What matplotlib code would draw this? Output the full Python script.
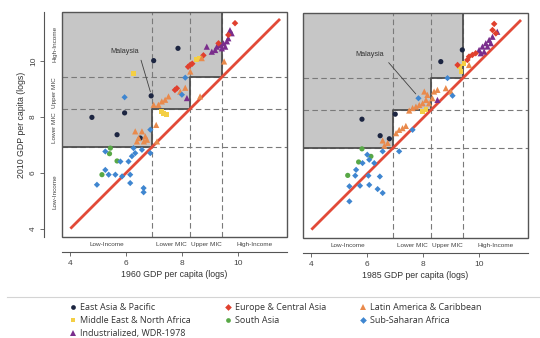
"""Growth of GDP per capita by income band: 1960 vs 2010 and 1985 vs 2010."""

import matplotlib

matplotlib.use("Agg")
import matplotlib.pyplot as plt
from matplotlib.lines import Line2D
from matplotlib.patches import Polygon, Rectangle
from matplotlib.transforms import blended_transform_factory

plt.rcParams["font.family"] = ["Liberation Sans", "DejaVu Sans"]

LIMITS = (3.7, 11.75)
THRESHOLDS = [6.92, 8.29, 9.43]
BANDS = ["Low-Income", "Lower MIC", "Upper MIC", "High-Income"]
TICKS = [4, 6, 8, 10]

# (initial GDP, 2010 GDP) pairs, by region
EAP_1960 = [(4.77, 7.98), (5.67, 7.36), (5.94, 8.14), (6.5, 7.24), (6.89, 8.75),
            (6.98, 10.01), (7.85, 10.45)]
ECA_1960 = [(7.74, 8.96), (7.81, 9.02), (8.21, 9.79), (8.29, 9.86), (8.36, 9.9),
            (8.76, 10.2), (9.3, 10.63), (9.65, 10.93), (9.89, 11.35)]
LAC_1960 = [(6.32, 7.48), (6.38, 7.12), (6.44, 7.24), (6.56, 7.48), (6.63, 7.12),
            (6.68, 7.3), (6.74, 7.18), (6.98, 8.43), (7.07, 7.71), (7.1, 7.12),
            (7.15, 8.43), (7.27, 8.55), (7.39, 8.61), (7.51, 8.73), (7.93, 8.9),
            (8.11, 9.04), (8.29, 9.62), (8.64, 8.73), (8.7, 10.1), (9.5, 9.98)]
MENA_1960 = [(6.25, 9.54), (7.27, 8.19), (7.33, 8.13), (7.45, 8.07), (8.52, 10.04),
             (8.6, 10.08)]
SAS_1960 = [(5.13, 5.93), (5.4, 6.68), (5.43, 6.88), (5.67, 6.42)]
SSA_1960 = [(4.95, 5.57), (5.25, 6.1), (5.25, 6.76), (5.37, 5.93), (5.61, 5.93),
            (5.79, 6.4), (5.85, 5.87), (5.94, 8.7), (6.08, 6.4), (6.14, 5.93),
            (6.14, 5.63), (6.2, 6.59), (6.26, 6.88), (6.32, 6.7), (6.56, 6.82),
            (6.62, 5.45), (6.62, 5.3), (6.86, 6.7), (6.86, 7.54), (7.99, 8.79),
            (8.11, 9.4)]
IND_1960 = [(8.17, 8.67), (8.88, 10.51), (9.06, 10.33), (9.18, 10.39), (9.24, 10.51),
            (9.36, 10.57), (9.42, 10.45), (9.48, 10.63), (9.54, 10.51), (9.6, 10.7),
            (9.65, 10.81), (9.71, 11.1), (9.77, 10.99)]

EAP_1985 = [(5.81, 7.95), (6.46, 7.36), (6.79, 7.25), (7.0, 8.13), (8.63, 10.01),
            (9.4, 10.43)]
ECA_1985 = [(9.23, 9.89), (9.58, 10.07), (9.64, 10.19), (9.76, 10.25), (9.88, 10.31),
            (10.48, 11.14), (10.6, 11.02), (10.54, 11.36)]
LAC_1985 = [(6.55, 7.19), (6.61, 7.0), (6.73, 7.1), (7.03, 7.45), (7.14, 7.57),
            (7.26, 7.63), (7.38, 7.71), (7.5, 8.26), (7.62, 8.35), (7.74, 8.4),
            (7.86, 8.46), (7.98, 8.52), (8.04, 8.94), (8.1, 8.64), (8.15, 8.82),
            (8.21, 8.52), (8.33, 8.7), (8.39, 8.94), (8.51, 9.0), (8.81, 9.06),
            (8.99, 8.94), (9.64, 9.89)]
MENA_1985 = [(7.98, 8.22), (8.1, 8.29), (9.29, 9.83), (9.35, 9.65), (9.46, 9.95)]
SAS_1985 = [(5.3, 5.94), (5.69, 6.42), (5.81, 6.89), (6.13, 6.62)]
SSA_1985 = [(5.36, 5.01), (5.36, 5.55), (5.57, 5.93), (5.6, 6.14), (5.74, 5.57),
            (5.83, 6.38), (6.0, 6.68), (6.04, 5.93), (6.07, 6.5), (6.07, 5.6),
            (6.25, 6.38), (6.37, 5.45), (6.45, 5.9), (6.55, 5.31), (6.55, 6.8),
            (7.14, 6.8), (7.62, 7.57), (7.83, 8.7), (8.87, 9.42), (9.05, 8.79)]
IND_1985 = [(8.51, 8.64), (10.0, 10.43), (10.06, 10.31), (10.12, 10.55), (10.18, 10.37),
            (10.24, 10.67), (10.3, 10.55), (10.36, 10.79), (10.42, 10.67), (10.48, 10.9),
            (10.65, 11.08)]

REGIONS = [
    # name, marker, colour, size
    ("East Asia & Pacific", "o", "#1c2541", 14),
    ("Middle East & North Africa", "s", "#f4cf45", 12),
    ("Industrialized, WDR-1978", "^", "#7a2d8c", 20),
    ("Europe & Central Asia", "D", "#e0402e", 11),
    ("South Asia", "o", "#58a846", 14),
    ("Latin America & Caribbean", "^", "#e98a4c", 20),
    ("Sub-Saharan Africa", "D", "#3f86d0", 10),
]
PANEL_1960 = [EAP_1960, MENA_1960, IND_1960, ECA_1960, SAS_1960, LAC_1960, SSA_1960]
PANEL_1985 = [EAP_1985, MENA_1985, IND_1985, ECA_1985, SAS_1985, LAC_1985, SSA_1985]

# Malaysia: label position, line start, point
MALAYSIA_1960 = ((5.96, 10.32), (6.5, 10.12), (6.89, 8.8))
MALAYSIA_1985 = ((6.07, 10.25), (6.7, 10.05), (7.8, 8.78))


def draw_panel(ax, points, xlabel, malaysia, show_y):
    lo, hi = LIMITS
    t1, t2, t3 = THRESHOLDS
    ax.set_xlim(lo, hi)
    ax.set_ylim(lo, hi)

    stairs = [(lo, t1), (t1, t1), (t1, t2), (t2, t2), (t2, t3), (t3, t3), (t3, hi)]
    ax.add_patch(Polygon([(lo, hi)] + stairs, closed=True, facecolor="#c6c6c6",
                         edgecolor="none", zorder=1))
    for t in THRESHOLDS:
        ax.axvline(t, color="#7a7a7a", lw=0.8, ls=(0, (5, 3)), zorder=2)
        ax.axhline(t, color="#7a7a7a", lw=0.8, ls=(0, (5, 3)), zorder=2)
    sx, sy = zip(*stairs)
    ax.plot(sx, sy, color="#505050", lw=1.3, zorder=3)
    ax.plot([4, 11.5], [4, 11.5], color="#e24a38", lw=2.0, solid_capstyle="butt", zorder=4)

    for (name, marker, color, size), pts in zip(REGIONS, points):
        xs, ys = zip(*pts)
        ax.scatter(xs, ys, marker=marker, s=size, color=color, edgecolors="none",
                   zorder=5)

    (tx, ty), (lx, ly), (px, py) = malaysia
    ax.annotate("", xy=(px, py), xytext=(lx, ly),
                arrowprops=dict(arrowstyle="-", color="#404040", lw=0.6), zorder=6)
    ax.text(tx, ty, "Malaysia", fontsize=5.2, color="#333333", ha="center", va="center",
            zorder=6)

    ax.add_patch(Rectangle((0, 0), 1, 1, transform=ax.transAxes, fill=False,
                           edgecolor="#555555", lw=1.0, clip_on=False, zorder=7))
    for side in ["top", "right", "left", "bottom"]:
        ax.spines[side].set_visible(False)
    ax.spines["bottom"].set_visible(True)
    ax.spines["bottom"].set_position(("outward", 10.8))
    ax.spines["bottom"].set_color("#555555")
    ax.spines["bottom"].set_linewidth(0.8)

    edges = [lo] + THRESHOLDS + [hi]
    centers = [(a + b) / 2 for a, b in zip(edges[:-1], edges[1:])]
    bx = blended_transform_factory(ax.transData, ax.transAxes)
    for c, band in zip(centers, BANDS):
        ax.text(c, -0.032, band, transform=bx, fontsize=4.6, color="#444444",
                ha="center", va="center")

    ax.set_xticks(TICKS)
    ax.tick_params(axis="x", length=3, width=0.6, color="#555555", labelsize=6,
                   labelcolor="#444444", pad=3)
    ax.set_xlabel(xlabel, fontsize=6.3, color="#333333", labelpad=2)

    if show_y:
        ax.spines["left"].set_visible(True)
        ax.spines["left"].set_position(("outward", 13))
        ax.spines["left"].set_color("#555555")
        ax.spines["left"].set_linewidth(0.8)
        ax.set_yticks(TICKS)
        ax.tick_params(axis="y", length=3, width=0.6, color="#555555", labelsize=6,
                       labelcolor="#444444", pad=2, labelrotation=90)
        for lab in ax.get_yticklabels():
            lab.set_va("center")
        ax.set_ylabel("2010 GDP per capita (logs)", fontsize=6.3, color="#333333",
                      labelpad=3)
        by = blended_transform_factory(ax.transAxes, ax.transData)
        for c, band in zip(centers, BANDS):
            ax.text(-0.032, c, band, transform=by, fontsize=4.6, color="#444444",
                    ha="center", va="center", rotation=90)
    else:
        ax.set_yticks([])


def main() -> None:
    fig = plt.figure(figsize=(5.4, 3.38), dpi=100)
    ax1 = fig.add_axes([62 / 540, 1 - 237 / 338, 225 / 540, 225 / 338])
    ax2 = fig.add_axes([303 / 540, 1 - 238 / 338, 225 / 540, 225 / 338])

    draw_panel(ax1, PANEL_1960, "1960 GDP per capita (logs)", MALAYSIA_1960, True)
    draw_panel(ax2, PANEL_1985, "1985 GDP per capita (logs)", MALAYSIA_1985, False)

    fig.add_artist(Line2D([7 / 540, 1], [1 - 297 / 338] * 2, transform=fig.transFigure,
                          color="#d4d4d4", lw=0.8))

    handles = [Line2D([], [], ls="none", marker=m, color=c, markersize=3.4 if m != "^" else 4.0,
                      markeredgewidth=0)
               for _, m, c, _ in REGIONS]
    labels = [name for name, _, _, _ in REGIONS]
    fig.legend(handles, labels, ncol=3, loc="upper left",
               bbox_to_anchor=(69 / 540, 1 - 303 / 338), frameon=False,
               prop={"family": ["Open Sans", "DejaVu Sans"], "size": 6.5},
               labelcolor="#333333", handlelength=0.8, handletextpad=0.4,
               columnspacing=3.7, labelspacing=0.46, borderpad=0, borderaxespad=0)

    fig.savefig("out.png", dpi=100)
    plt.close(fig)


if __name__ == "__main__":
    main()
